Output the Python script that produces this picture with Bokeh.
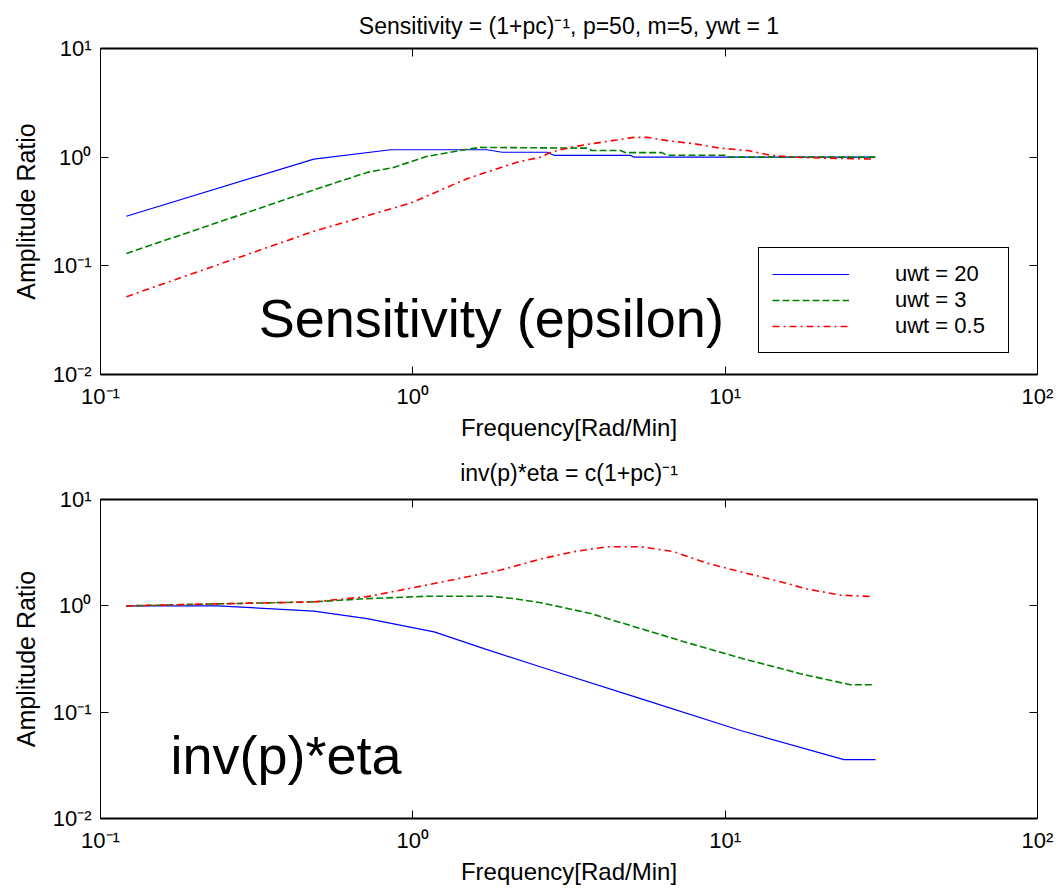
from bokeh.plotting import figure
from bokeh.models import Range1d, LogAxis, FixedTicker, CustomJSTickFormatter, Label
from bokeh.layouts import column
from bokeh.embed import file_html
from bokeh.resources import INLINE

# ---------------- data ----------------
tick_vals_x = [0.1, 1, 10, 100]
tick_labels_x = ["10\u207b\u00b9", "10\u2070", "10\u00b9", "10\u00b2"]
tick_vals_y = [0.01, 0.1, 1, 10]
tick_labels_y = ["10\u207b\u00b2", "10\u207b\u00b9", "10\u2070", "10\u00b9"]

series_labels = ["uwt = 20", "uwt = 3", "uwt = 0.5"]

# Sensitivity panel
sens_x_uwt20 = [0.121, 0.482, 0.849, 1.73, 1.93, 2.69, 2.83, 4.98, 5.1, 30.3]
sens_y_uwt20 = [0.286, 0.96, 1.17, 1.17, 1.11, 1.11, 1.04, 1.04, 1.0, 1.0]
sens_x_uwt3 = [0.121, 0.482, 0.714, 0.869, 1.10, 1.46, 1.65, 3.61, 3.75, 4.62, 4.8, 6.28, 6.5, 10.0, 10.3, 30.3]
sens_y_uwt3 = [0.130, 0.50, 0.724, 0.805, 1.01, 1.17, 1.23, 1.21, 1.15, 1.15, 1.10, 1.10, 1.04, 1.04, 1.0, 1.0]
sens_x_uwt05 = [0.121, 0.482, 0.984, 1.49, 2.16, 2.57, 2.74, 2.97, 3.28, 3.80, 4.51, 5.10, 5.65, 6.52, 7.94, 9.67, 11.8, 14.0, 16.6, 20.7, 29.9]
sens_y_uwt05 = [0.052, 0.208, 0.378, 0.634, 0.90, 1.0, 1.1, 1.17, 1.25, 1.34, 1.44, 1.52, 1.52, 1.42, 1.33, 1.21, 1.15, 1.04, 1.0, 0.98, 0.96]

# inv(p)*eta panel
eta_x_uwt20 = [0.121, 0.237, 0.482, 0.714, 1.17, 1.69, 2.57, 5.36, 11.2, 24.0, 30.3]
eta_y_uwt20 = [1.0, 1.0, 0.891, 0.759, 0.569, 0.396, 0.266, 0.134, 0.0672, 0.0358, 0.0358]
eta_x_uwt3 = [0.121, 0.482, 0.714, 1.11, 1.77, 2.1, 2.57, 3.71, 5.36, 7.74, 11.2, 17.4, 25.2, 29.9]
eta_y_uwt3 = [1.0, 1.09, 1.17, 1.23, 1.23, 1.17, 1.07, 0.847, 0.611, 0.441, 0.323, 0.23, 0.181, 0.181]
eta_x_uwt05 = [0.121, 0.482, 0.714, 1.17, 1.91, 2.57, 3.28, 4.19, 5.36, 6.85, 8.77, 11.2, 14.3, 18.3, 23.4, 29.9]
eta_y_uwt05 = [1.0, 1.09, 1.22, 1.62, 2.17, 2.76, 3.23, 3.60, 3.60, 3.23, 2.51, 2.09, 1.75, 1.44, 1.26, 1.22]

FONT = "Liberation Sans"
TICK_FS = "22px"
XLAB_FS = "24px"
YLAB_FS = "25px"
TITLE_FS = "23px"
LEG_FS = "22px"

def fmt(vals, labels):
    return CustomJSTickFormatter(args=dict(tvals=vals, tlabels=labels), code="""
        const i = tvals.findIndex(t => Math.abs(Math.log10(t) - Math.log10(tick)) < 1e-6);
        return i >= 0 ? tlabels[i] : '';
    """)

def blank():
    return CustomJSTickFormatter(code="return '';")

def style_axis(ax, lw):
    ax.major_tick_in = 8
    ax.major_tick_out = 0
    ax.minor_tick_line_color = None
    ax.axis_line_color = "black"
    ax.axis_line_width = lw
    ax.major_tick_line_color = "black"
    ax.major_label_text_font = FONT
    ax.major_label_text_font_size = TICK_FS
    ax.major_label_text_color = "black"
    ax.axis_label_text_font = FONT
    ax.axis_label_text_font_style = "normal"
    ax.axis_label_text_color = "black"

def make_fig(title, height, top, bottom, title_standoff):
    p = figure(width=1058, height=height, x_axis_type="log", y_axis_type="log",
               x_range=Range1d(0.1, 100), y_range=Range1d(0.01, 10),
               output_backend="svg", toolbar_location=None,
               min_border_left=100, min_border_right=21,
               min_border_top=top, min_border_bottom=bottom, title=title)
    p.title.text_font = FONT
    p.title.text_font_size = TITLE_FS
    p.title.text_font_style = "normal"
    p.title.text_color = "black"
    p.title.align = "center"
    p.title.standoff = title_standoff
    p.xgrid.visible = False
    p.ygrid.visible = False
    p.outline_line_color = "black"
    p.outline_line_width = 1
    p.background_fill_color = "white"
    p.border_fill_color = "white"

    xa = p.xaxis[0]
    xa.ticker = FixedTicker(ticks=tick_vals_x)
    xa.formatter = fmt(tick_vals_x, tick_labels_x)
    xa.axis_label = "Frequency[Rad/Min]"
    style_axis(xa, 2)
    xa.axis_label_text_font_size = XLAB_FS
    xa.major_label_standoff = 9
    xa.axis_label_standoff = 2

    ya = p.yaxis[0]
    ya.ticker = FixedTicker(ticks=tick_vals_y)
    ya.formatter = fmt(tick_vals_y, tick_labels_y)
    ya.axis_label = "Amplitude Ratio"
    style_axis(ya, 1)
    ya.axis_label_text_font_size = YLAB_FS
    ya.major_label_standoff = 9
    ya.axis_label_standoff = 10

    ra = LogAxis(ticker=FixedTicker(ticks=tick_vals_y), formatter=blank())
    style_axis(ra, 1)
    ra.major_label_text_font_size = "0px"
    ra.major_label_standoff = 0
    p.add_layout(ra, "right")
    ta = LogAxis(ticker=FixedTicker(ticks=tick_vals_x), formatter=blank())
    style_axis(ta, 2)
    ta.major_label_text_font_size = "0px"
    ta.major_label_standoff = 0
    p.add_layout(ta, "above")
    return p

colors = ["#0000ff", "#008000", "#ff0000"]
dashes = ["solid", "7 3", "7 4 2 4"]
widths = [1.2, 1.6, 1.6]

p1 = make_fig("Sensitivity = (1+pc)\u207b\u00b9, p=50, m=5, ywt = 1", 443, 47, 69, 20)
for xs, ys, c, d, w, lab in zip([sens_x_uwt20, sens_x_uwt3, sens_x_uwt05],
                                [sens_y_uwt20, sens_y_uwt3, sens_y_uwt05],
                                colors, dashes, widths, series_labels):
    p1.line(xs, ys, line_color=c, line_dash=d, line_width=w, legend_label=lab)

lg = p1.legend[0]
lg.location = (658, 21)
lg.margin = 0
lg.padding = 13
lg.spacing = 0
lg.glyph_width = 77
lg.glyph_height = 26
lg.label_height = 26
lg.label_width = 100
lg.label_standoff = 46
lg.label_text_font = FONT
lg.label_text_font_size = LEG_FS
lg.label_text_color = "black"
lg.border_line_color = "black"
lg.border_line_width = 1.5
lg.border_line_alpha = 1.0
lg.background_fill_color = "white"
lg.background_fill_alpha = 1.0

p1.add_layout(Label(x=0.321, y=0.0331, text="Sensitivity (epsilon)", text_font=FONT,
                    text_font_size="54px", text_baseline="alphabetic", text_color="black"))

p2 = make_fig("inv(p)*eta = c(1+pc)\u207b\u00b9", 445, 55, 70, 28)
for xs, ys, c, d, w in zip([eta_x_uwt20, eta_x_uwt3, eta_x_uwt05],
                           [eta_y_uwt20, eta_y_uwt3, eta_y_uwt05],
                           colors, dashes, widths):
    p2.line(xs, ys, line_color=c, line_dash=d, line_width=w)

p2.add_layout(Label(x=0.1675, y=0.0395, text="inv(p)*eta", text_font=FONT,
                    text_font_size="54px", text_baseline="alphabetic", text_color="black"))

layout = column(p1, p2, spacing=0)
open("out.html", "w").write(file_html(layout, INLINE))
